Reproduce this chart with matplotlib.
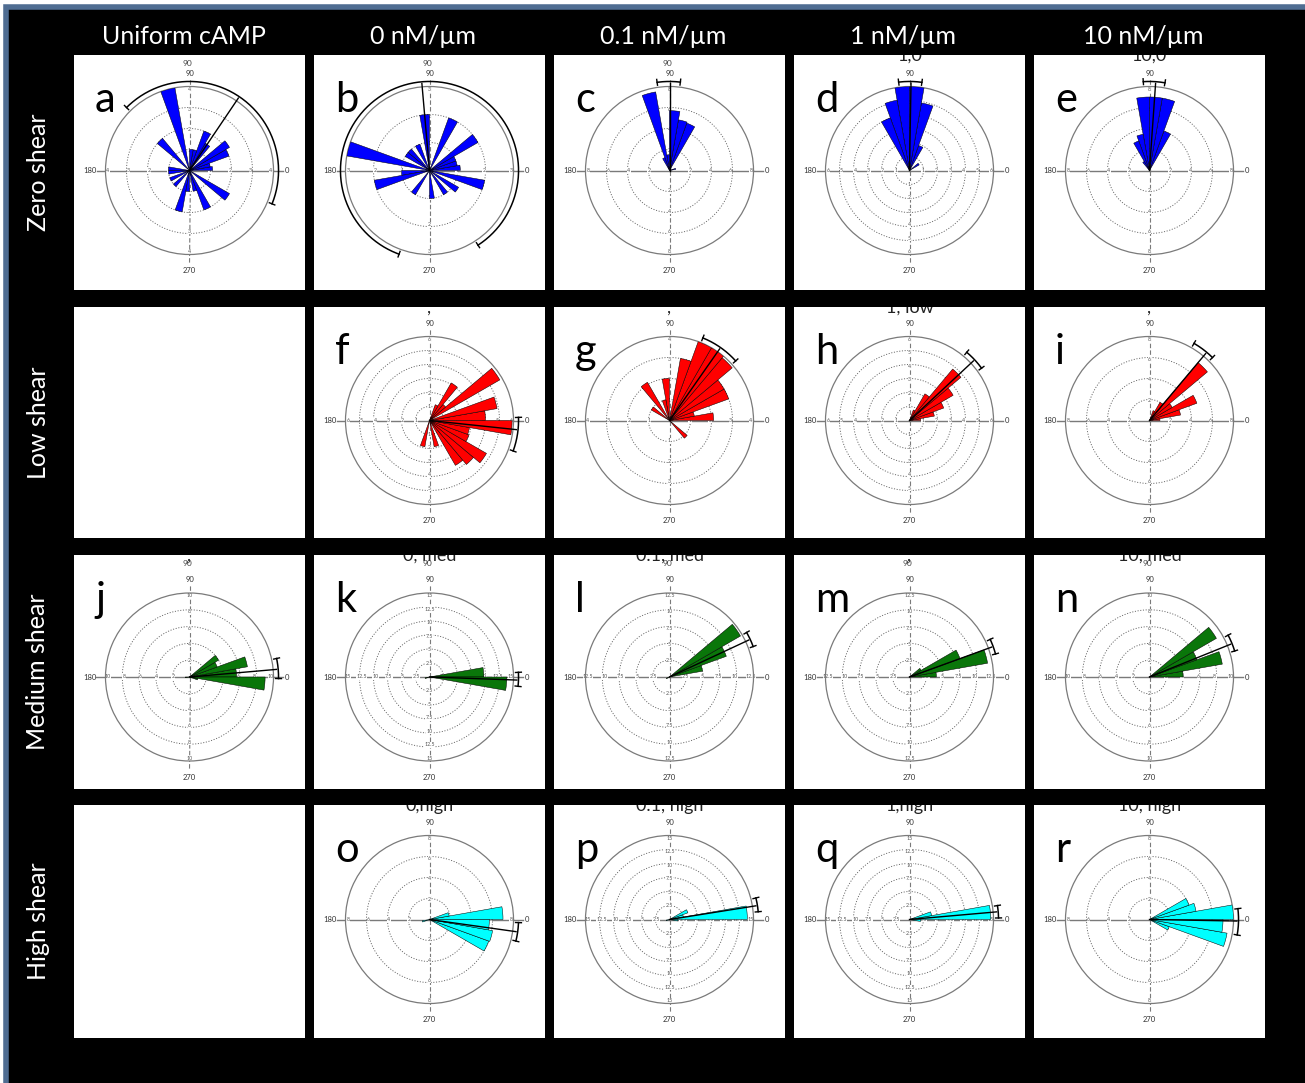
import numpy as np
import matplotlib.pyplot as plt
from matplotlib.patches import Rectangle

plt.rcParams['font.family'] = ['Lato', 'DejaVu Sans']

W, H = 1305, 1083

col_titles = ['Uniform cAMP', '0 nM/µm', '0.1 nM/µm', '1 nM/µm', '10 nM/µm']
row_titles = ['Zero shear', 'Low shear', 'Medium shear', 'High shear']
row_colors = ['#0000ff', '#ff0000', '#0a760a', '#00ffff']

# rose histograms: start angle of each 10 deg bin and count
a_ang = [0, 10, 20, 30, 50, 60, 70, 80, 100, 130, 170, 180, 200, 220, 250, 260, 280, 290, 320]
a_cnt = [1.1, 1.0, 2.0, 2.2, 1.5, 2.0, 1.0, 1.0, 4.0, 2.0, 1.0, 1.0, 1.0, 1.0, 2.0, 1.0, 1.0, 2.0, 2.2]
b_ang = [0, 10, 20, 30, 60, 90, 110, 130, 140, 160, 180, 190, 230, 270, 300, 320, 340]
b_cnt = [1.1, 1.0, 1.0, 2.0, 2.0, 2.0, 1.0, 1.0, 1.0, 3.0, 1.0, 2.0, 1.0, 1.0, 1.0, 1.2, 2.0]
c_ang = [10, 60, 70, 80, 90, 100, 110]
c_cnt = [0.6, 4.8, 4.9, 5.7, 1.5, 7.6, 1.3]
d_ang = [30, 60, 70, 80, 90, 100, 110]
d_cnt = [0.8, 1.9, 4.9, 6.0, 6.0, 5.1, 4.0]
e_ang = [60, 70, 80, 90, 100, 110, 120]
e_cnt = [4.0, 7.0, 7.0, 7.0, 3.5, 3.0, 1.0]
f_ang = [0, 10, 30, 40, 50, 60, 250, 280, 300, 310, 320, 330, 340, 350]
f_cnt = [4.0, 4.9, 5.8, 1.5, 3.1, 1.2, 1.9, 1.9, 3.7, 4.1, 4.7, 3.0, 2.9, 5.9]
g_ang = [0, 10, 20, 30, 40, 50, 60, 70, 90, 100, 120, 140, 310]
g_cnt = [2.1, 1.2, 3.0, 3.0, 3.9, 4.0, 4.0, 3.0, 2.0, 1.0, 2.1, 1.0, 1.1]
h_ang = [0, 10, 20, 30, 40, 50, 60]
h_cnt = [0.8, 1.8, 2.6, 3.6, 4.8, 2.2, 0.8]
i_ang = [0, 10, 20, 30, 40, 50, 60]
i_cnt = [1.0, 3.0, 4.8, 2.5, 7.2, 2.0, 1.0]
j_ang = [0, 10, 20, 30, 180, 340, 350]
j_cnt = [5.6, 7.0, 3.5, 4.0, 0.5, 1.0, 9.0]
k_ang = [0, 190, 350]
k_cnt = [9.7, 0.8, 13.8]
l_ang = [10, 20, 30, 200]
l_cnt = [5.0, 9.0, 12.2, 0.5]
m_ang = [0, 10, 20, 30]
m_cnt = [4.0, 11.8, 8.0, 2.0]
n_ang = [0, 10, 20, 30]
n_cnt = [4.0, 8.8, 6.0, 9.2]
o_ang = [0, 10, 190, 330, 340, 350]
o_cnt = [7.0, 1.9, 0.7, 6.0, 6.1, 5.7]
p_ang = [0, 10, 20, 190, 350]
p_cnt = [13.9, 2.5, 3.5, 0.6, 1.5]
q_ang = [0, 10, 350]
q_cnt = [14.5, 4.0, 2.0]
r_ang = [0, 10, 20, 330, 340, 350]
r_cnt = [8.0, 4.5, 4.0, 2.0, 7.5, 7.0]

# axis range, ring step, mean direction and confidence arc (deg)
rmax = dict(a=4, b=3, c=8, d=6, e=8, f=6, g=4, h=6, i=8, j=10, k=15, l=12.5,
            m=12.5, n=10, o=8, p=15, q=15, r=8)
step = dict(a=1, b=1, c=2, d=1, e=2, f=1, g=1, h=1, i=2, j=2, k=2.5, l=2.5,
            m=2.5, n=2, o=2, p=2.5, q=2.5, r=2)
mean_dir = dict(a=56, b=95, c=90, d=89, e=86, f=-6, g=55, h=43, i=50, j=5, k=-2,
                l=25, m=20, n=22, o=-8, p=9, q=5, r=-1)
ci_arc = dict(a=(-22, 135), b=(-57, 250), c=(83, 98), d=(82, 97), e=(80, 94),
              f=(-20, 2), g=(42, 68), h=(36, 50), i=(45, 60), j=(-1, 12), k=(-6, 3),
              l=(20, 30), m=(15, 25), n=(17, 28), o=(-14, -2), p=(5, 14), q=(1, 9),
              r=(-10, 7))
cut_titles = dict(d='1,0', e='10,0', f=',', g=',', h='1, low', i=',', j=',',
                  k='0, med', l='0.1, med', m=',', n='10, med', o='0,high',
                  p='0.1, high', q='1,high', r='10, high')
extra_90 = ['a', 'b', 'c', 'j', 'k', 'l', 'm', 'n']

data = dict(a=(a_ang, a_cnt), b=(b_ang, b_cnt), c=(c_ang, c_cnt), d=(d_ang, d_cnt),
            e=(e_ang, e_cnt), f=(f_ang, f_cnt), g=(g_ang, g_cnt), h=(h_ang, h_cnt),
            i=(i_ang, i_cnt), j=(j_ang, j_cnt), k=(k_ang, k_cnt), l=(l_ang, l_cnt),
            m=(m_ang, m_cnt), n=(n_ang, n_cnt), o=(o_ang, o_cnt), p=(p_ang, p_cnt),
            q=(q_ang, q_cnt), r=(r_ang, r_cnt))

grid_letters = [['a', 'b', 'c', 'd', 'e'],
                [None, 'f', 'g', 'h', 'i'],
                ['j', 'k', 'l', 'm', 'n'],
                [None, 'o', 'p', 'q', 'r']]

# layout in pixels
col_x = [74, 314, 554, 794, 1034]
col_w = 231
row_y = [55, 307, 555, 805]
row_h = [235, 231, 234, 233]
row_dy = [-2, -2, 5, -2]
R = 84


def fbox(x, y, w, h):
    return [x / W, 1 - (y + h) / H, w / W, h / H]


fig = plt.figure(figsize=(W / 100, H / 100), dpi=100, facecolor='white')
fig.patches.append(Rectangle((6 / W, -0.05), 1.2, 1.05 - 7 / H, transform=fig.transFigure,
                             facecolor='black', edgecolor='#4f6d92', linewidth=4,
                             zorder=-10))

for c, t in enumerate(col_titles):
    fig.text((col_x[c] + col_w / 2 - 6) / W, 1 - 36 / H, t, color='white',
             fontsize=18, ha='center', va='center')
for r, t in enumerate(row_titles):
    fig.text(38 / W, 1 - (row_y[r] + row_h[r] / 2) / H, t, color='white',
             fontsize=18, ha='center', va='center', rotation=90)

gray = '#7a7a7a'
for r in range(4):
    for c in range(5):
        x0, y0, w, h = col_x[c], row_y[r], col_w, row_h[r]
        pan = fig.add_axes(fbox(x0, y0, w, h))
        pan.set_facecolor('white')
        pan.set_xticks([])
        pan.set_yticks([])
        for s in pan.spines.values():
            s.set_visible(False)
        L = grid_letters[r][c]
        if L is None:
            continue
        pan.text(21 / w, 1 - 57 / h, L, transform=pan.transAxes, fontsize=30,
                 color='black', va='baseline', ha='left', zorder=10)
        if L in cut_titles:
            pan.text(0.5, 1 - 1 / h, cut_titles[L], transform=pan.transAxes,
                     fontsize=13, color='#222222', ha='center', va='center',
                     clip_on=True)
        if L in extra_90:
            pan.text(0.5 - 2 / w, 1 - 8 / h, '90', transform=pan.transAxes,
                     fontsize=6, color='#444444', ha='center', va='center')

        cx = x0 + w / 2
        cy = y0 + h / 2 + row_dy[r]
        ax = fig.add_axes(fbox(cx - R, cy - R, 2 * R, 2 * R), projection='polar')
        ax.patch.set_alpha(0)
        rm = rmax[L]
        ax.set_ylim(0, rm)
        ax.set_xticks([])
        ax.set_yticks([])
        ax.grid(False)
        ax.spines['polar'].set_color(gray)
        ax.spines['polar'].set_linewidth(0.9)
        th = np.linspace(0, 2 * np.pi, 300)
        rings = np.arange(step[L], rm - 1e-6, step[L])
        for rv in rings:
            ax.plot(th, np.full_like(th, rv), color='#606060', lw=0.65,
                    ls=(0, (1.2, 1.8)), zorder=1)
        ext = rm * (1 + 9 / R)
        for a_ in (0, np.pi):
            ax.plot([a_, a_], [0, ext], color=gray, lw=1.0, zorder=1, clip_on=False)
        for a_ in (np.pi / 2, 1.5 * np.pi):
            ax.plot([a_, a_], [0, ext], color=gray, lw=0.8, ls=(0, (4, 2)),
                    zorder=1, clip_on=False)
        ticks = list(rings) + [rm]
        for a_ in (0, np.pi / 2, np.pi, 1.5 * np.pi):
            for rv in ticks:
                ax.text(a_, rv * 0.97, f'{rv:g}', fontsize=3.8, color='#555555',
                        ha='center', va='center', zorder=2,
                        bbox=dict(boxstyle='square,pad=0.05', fc='white', ec='none'))
        lab = dict(fontsize=5.5, color='#333333', ha='center', va='center')
        ax.text(np.pi / 2, rm * (1 + 13 / R), '90', clip_on=False, **lab)
        ax.text(1.5 * np.pi, rm * (1 + 16 / R), '270', clip_on=False, **lab)
        ax.text(np.pi, rm * (1 + 16 / R), '180', clip_on=False, **lab)
        ax.text(0, rm * (1 + 13 / R), '0', clip_on=False, **lab)

        ang, cnt = data[L]
        ax.bar(np.deg2rad(np.array(ang) + 5), cnt, width=np.deg2rad(10), bottom=0,
               color=row_colors[r], edgecolor='black', linewidth=0.35, zorder=3)

        md = np.deg2rad(mean_dir[L])
        ax.plot([md, md], [0, rm * 1.04], color='black', lw=1.0, zorder=4,
                clip_on=False)
        lo, hi = np.deg2rad(ci_arc[L])
        ra = rm * 1.06
        tt = np.linspace(lo, hi, 200)
        ax.plot(tt, np.full_like(tt, ra), color='black', lw=1.1, zorder=4,
                clip_on=False)
        for e_ in (lo, hi):
            ax.plot([e_, e_], [ra - rm * 0.035, ra + rm * 0.035], color='black',
                    lw=1.0, zorder=4, clip_on=False)

fig.savefig('out.png', dpi=100, facecolor=fig.get_facecolor())
